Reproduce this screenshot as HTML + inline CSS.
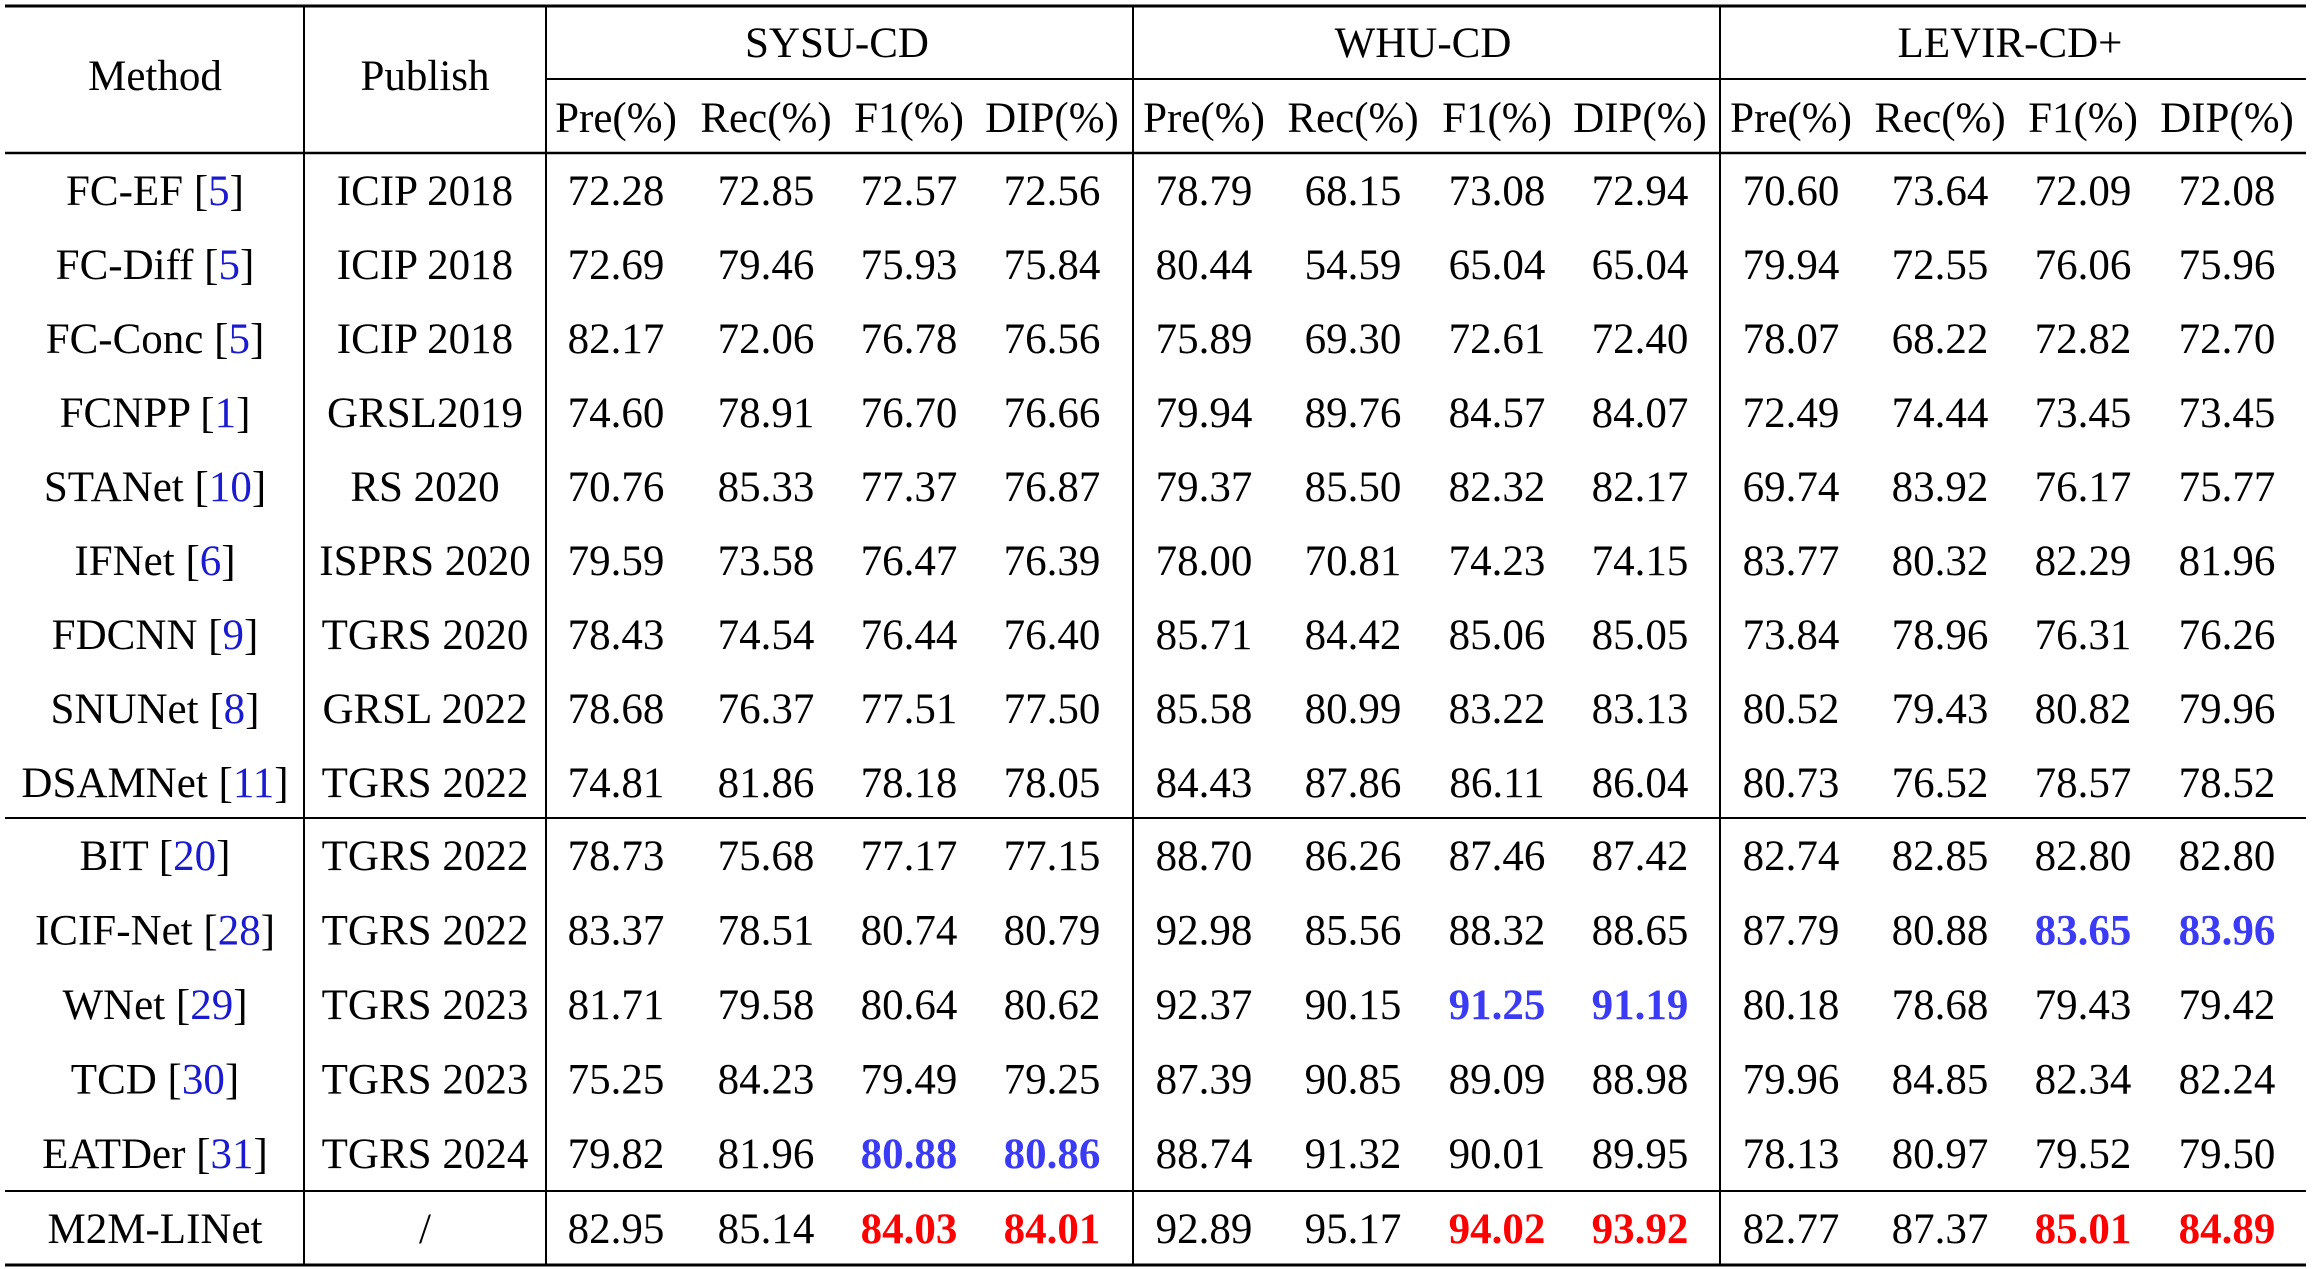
<!DOCTYPE html>
<html><head><meta charset="utf-8"><style>
html,body{margin:0;padding:0;background:#fff;}
svg{display:block;}
text{font-family:"Liberation Serif",serif;font-size:43px;}
</style></head>
<body>
<svg id="tbl" width="2319" height="1269" viewBox="0 0 2319 1269" xmlns="http://www.w3.org/2000/svg">
<g id="lines" stroke="#000">
<line x1="5" x2="2306" y1="6" y2="6" stroke-width="3"/>
<line x1="546" x2="2306" y1="79" y2="79" stroke-width="2"/>
<line x1="5" x2="2306" y1="153" y2="153" stroke-width="2.5"/>
<line x1="5" x2="2306" y1="818" y2="818" stroke-width="2"/>
<line x1="5" x2="2306" y1="1191" y2="1191" stroke-width="2"/>
<line x1="5" x2="2306" y1="1265" y2="1265" stroke-width="3"/>
<line x1="304" x2="304" y1="6" y2="1265" stroke-width="2"/>
<line x1="546" x2="546" y1="6" y2="1265" stroke-width="2"/>
<line x1="1133" x2="1133" y1="6" y2="1265" stroke-width="2"/>
<line x1="1720" x2="1720" y1="6" y2="1265" stroke-width="2"/>
</g>
<text x="155" y="90" text-anchor="middle">Method</text>
<text x="425" y="90" text-anchor="middle">Publish</text>
<text x="837" y="57" text-anchor="middle">SYSU-CD</text>
<text x="1423" y="57" text-anchor="middle">WHU-CD</text>
<text x="2010" y="57" text-anchor="middle">LEVIR-CD+</text>
<g id="body"></g>
</svg>
<script>
const methods = ["FC-EF","FC-Diff","FC-Conc","FCNPP","STANet","IFNet","FDCNN","SNUNet","DSAMNet","BIT","ICIF-Net","WNet","TCD","EATDer","M2M-LINet"];
const refs = ["5","5","5","1","10","6","9","8","11","20","28","29","30","31",""];
const venues = ["ICIP 2018","ICIP 2018","ICIP 2018","GRSL2019","RS 2020","ISPRS 2020","TGRS 2020","GRSL 2022","TGRS 2022","TGRS 2022","TGRS 2022","TGRS 2023","TGRS 2023","TGRS 2024","/"];
const subHeaders = ["Pre(%)","Rec(%)","F1(%)","DIP(%)"];
const sysu = [
["72.28","72.85","72.57","72.56"],["72.69","79.46","75.93","75.84"],["82.17","72.06","76.78","76.56"],["74.60","78.91","76.70","76.66"],["70.76","85.33","77.37","76.87"],["79.59","73.58","76.47","76.39"],["78.43","74.54","76.44","76.40"],["78.68","76.37","77.51","77.50"],["74.81","81.86","78.18","78.05"],["78.73","75.68","77.17","77.15"],["83.37","78.51","80.74","80.79"],["81.71","79.58","80.64","80.62"],["75.25","84.23","79.49","79.25"],["79.82","81.96","80.88","80.86"],["82.95","85.14","84.03","84.01"]];
const whu = [
["78.79","68.15","73.08","72.94"],["80.44","54.59","65.04","65.04"],["75.89","69.30","72.61","72.40"],["79.94","89.76","84.57","84.07"],["79.37","85.50","82.32","82.17"],["78.00","70.81","74.23","74.15"],["85.71","84.42","85.06","85.05"],["85.58","80.99","83.22","83.13"],["84.43","87.86","86.11","86.04"],["88.70","86.26","87.46","87.42"],["92.98","85.56","88.32","88.65"],["92.37","90.15","91.25","91.19"],["87.39","90.85","89.09","88.98"],["88.74","91.32","90.01","89.95"],["92.89","95.17","94.02","93.92"]];
const levir = [
["70.60","73.64","72.09","72.08"],["79.94","72.55","76.06","75.96"],["78.07","68.22","72.82","72.70"],["72.49","74.44","73.45","73.45"],["69.74","83.92","76.17","75.77"],["83.77","80.32","82.29","81.96"],["73.84","78.96","76.31","76.26"],["80.52","79.43","80.82","79.96"],["80.73","76.52","78.57","78.52"],["82.74","82.85","82.80","82.80"],["87.79","80.88","83.65","83.96"],["80.18","78.68","79.43","79.42"],["79.96","84.85","82.34","82.24"],["78.13","80.97","79.52","79.50"],["82.77","87.37","85.01","84.89"]];
const best = ["0,14,2","0,14,3","1,14,2","1,14,3","2,14,2","2,14,3"];
const second = ["0,13,2","0,13,3","1,11,2","1,11,3","2,10,2","2,10,3"];

const NS="http://www.w3.org/2000/svg";
const svg=document.getElementById('tbl');
const body=document.getElementById('body');
const colX=[[616,766,909,1052],[1204,1353,1497,1640],[1791,1940,2083,2227]];
const dsNames=["sysu","whu","levir"];
function rowY(i){ if(i<9) return 190+i*74; if(i<14) return 855+(i-9)*74.5; return 1228; }
function mk(x,y,str,anchor){const t=document.createElementNS(NS,'text');t.setAttribute('x',x);t.setAttribute('y',y);t.setAttribute('text-anchor',anchor||'middle');t.textContent=str;return t;}
dsNames.forEach((d,di)=>{subHeaders.forEach((h,ci)=>{
  const t=mk(colX[di][ci],132,h);
  
  
  svg.appendChild(t);
});});
const data=[sysu,whu,levir];
methods.forEach((m,i)=>{
  const y=rowY(i)+15;
  const mt=mk(155,y,'');
  
  
  mt.appendChild(document.createTextNode(m+(refs[i]?' [':'')));
  if(refs[i]){const ts=document.createElementNS(NS,'tspan');ts.style.fill='#1a1ad0';ts.textContent=refs[i];mt.appendChild(ts);mt.appendChild(document.createTextNode(']'));}
  body.appendChild(mt);
  const vt=mk(425,y,venues[i]);
  
  
  body.appendChild(vt);
  data.forEach((ds,di)=>{ds[i].forEach((v,ci)=>{
    const t=mk(colX[di][ci],y,v);
    const key=di+','+i+','+ci;
    if(best.includes(key)){t.style.fill='#ff0000';t.style.fontWeight='bold';}
    else if(second.includes(key)){t.style.fill='#3b3bf5';t.style.fontWeight='bold';}
    
    
    body.appendChild(t);
  });});
});
</script>
</body></html>
